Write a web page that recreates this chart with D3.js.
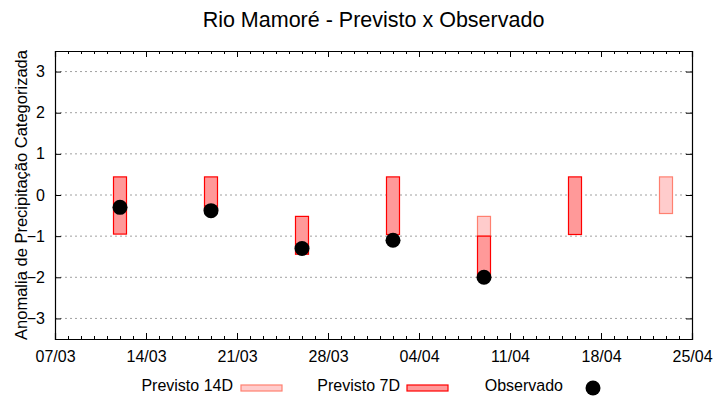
<!DOCTYPE html>
<html lang="pt">
<head>
<meta charset="UTF-8" />
<title>Rio Mamoré - Previsto x Observado</title>
<script src="https://d3js.org/d3.v7.min.js"></script>
<style>
    body { margin: 0; background: #fff; font-family: "Liberation Sans", Arial, sans-serif; }
    .grid line { stroke: #a0a0a0; stroke-dasharray: 2,3; }
    .axis text { font-size: 16px; fill: #000; font-family: "Liberation Sans", Arial, sans-serif; }
    .axis path, .axis line { stroke: #000; }
</style>
</head>
<body>
<svg width="720" height="400"></svg>
<script>
// data
const xTickDates = ["2025-03-07", "2025-03-14", "2025-03-21", "2025-03-28", "2025-04-04", "2025-04-11", "2025-04-18", "2025-04-25"];
const yTickValues = [-3, -2, -1, 0, 1, 2, 3];

const prev7Dates = ["2025-03-12", "2025-03-19", "2025-03-26", "2025-04-02", "2025-04-09", "2025-04-16"];
const prev7Low = [-0.95, -0.38, -1.44, -0.96, -2.0, -0.96];
const prev7High = [0.44, 0.44, -0.52, 0.44, -1.0, 0.44];

const prev14Dates = ["2025-04-09", "2025-04-23"];
const prev14Low = [-1.0, -0.45];
const prev14High = [-0.52, 0.44];

const obsDates = ["2025-03-12", "2025-03-19", "2025-03-26", "2025-04-02", "2025-04-09"];
const obsValues = [-0.3, -0.38, -1.3, -1.1, -2.0];

const parse = d3.utcParse("%Y-%m-%d");
const fmt = d3.utcFormat("%d/%m");

const svg = d3.select("svg");
const margin = { left: 55, right: 28, top: 51, bottom: 61 };
const width = 720, height = 400;

const x = d3.scaleUtc()
    .domain([parse("2025-03-07"), parse("2025-04-25")])
    .range([margin.left, width - margin.right]);
const y = d3.scaleLinear()
    .domain([-3.5, 3.5])
    .range([height - margin.bottom, margin.top]);

const barW = x(parse("2025-03-08")) - x(parse("2025-03-07"));

// grid
svg.append("g")
    .attr("class", "grid")
    .selectAll("line")
    .data(yTickValues)
    .enter()
    .append("line")
    .attr("x1", margin.left)
    .attr("x2", width - margin.right)
    .attr("y1", (d) => y(d))
    .attr("y2", (d) => y(d));

const xTicks = xTickDates.map(parse);
const minorTicks = d3.utcDay.range(x.domain()[0], x.domain()[1]);

// minor ticks bottom/top
svg.append("g")
    .attr("class", "axis")
    .attr("transform", `translate(0,${height - margin.bottom})`)
    .call(d3.axisBottom(x).tickValues(minorTicks).tickSize(-3).tickFormat(""))
    .call((g) => g.select(".domain").remove());
svg.append("g")
    .attr("class", "axis")
    .attr("transform", `translate(0,${margin.top})`)
    .call(d3.axisTop(x).tickValues(minorTicks).tickSize(-3).tickFormat(""))
    .call((g) => g.select(".domain").remove());

// major x axes
svg.append("g")
    .attr("class", "axis")
    .attr("transform", `translate(0,${height - margin.bottom})`)
    .call(d3.axisBottom(x).tickValues(xTicks).tickSize(-6).tickPadding(12).tickFormat(fmt));
svg.append("g")
    .attr("class", "axis")
    .attr("transform", `translate(0,${margin.top})`)
    .call(d3.axisTop(x).tickValues(xTicks).tickSize(-6).tickFormat(""));

// y axes
svg.append("g")
    .attr("class", "axis")
    .attr("transform", `translate(${margin.left},0)`)
    .call(d3.axisLeft(y).tickValues(yTickValues).tickSize(-6).tickPadding(10).tickFormat(d3.format("d")));
svg.append("g")
    .attr("class", "axis")
    .attr("transform", `translate(${width - margin.right},0)`)
    .call(d3.axisRight(y).tickValues(yTickValues).tickSize(-6).tickFormat(""));

svg.selectAll(".axis .domain").attr("stroke-width", 1.2);

// 14D bars
svg.append("g")
    .selectAll("rect")
    .data(prev14Dates)
    .enter()
    .append("rect")
    .attr("x", (d) => x(parse(d)) - barW / 2)
    .attr("width", barW)
    .attr("y", (d, i) => y(prev14High[i]))
    .attr("height", (d, i) => y(prev14Low[i]) - y(prev14High[i]))
    .attr("fill", "#ffcccc")
    .attr("stroke", "#ff8070")
    .attr("stroke-width", 1.2);

// 7D bars
svg.append("g")
    .selectAll("rect")
    .data(prev7Dates)
    .enter()
    .append("rect")
    .attr("x", (d) => x(parse(d)) - barW / 2)
    .attr("width", barW)
    .attr("y", (d, i) => y(prev7High[i]))
    .attr("height", (d, i) => y(prev7Low[i]) - y(prev7High[i]))
    .attr("fill", "#ff9999")
    .attr("stroke", "#ff0000")
    .attr("stroke-width", 1.2);

// observed
svg.append("g")
    .selectAll("circle")
    .data(obsDates)
    .enter()
    .append("circle")
    .attr("cx", (d) => x(parse(d)))
    .attr("cy", (d, i) => y(obsValues[i]))
    .attr("r", 7.5)
    .attr("fill", "#000");

// title
svg.append("text")
    .attr("x", (margin.left + width - margin.right) / 2)
    .attr("y", 27)
    .attr("text-anchor", "middle")
    .attr("font-size", "21.5px")
    .text("Rio Mamoré - Previsto x Observado");

// y label
svg.append("text")
    .attr("transform", `translate(27,${(margin.top + height - margin.bottom) / 2}) rotate(-90)`)
    .attr("text-anchor", "middle")
    .attr("font-size", "16.5px")
    .text("Anomalia de Precipitação Categorizada");

// legend
const legend = svg.append("g").attr("font-size", "16px");
legend.append("text").attr("x", 233).attr("y", 391).attr("text-anchor", "end").text("Previsto 14D");
legend.append("rect").attr("x", 241).attr("y", 385).attr("width", 41).attr("height", 6)
    .attr("fill", "#ffcccc").attr("stroke", "#ff8070").attr("stroke-width", 1.2);
legend.append("text").attr("x", 400).attr("y", 391).attr("text-anchor", "end").text("Previsto 7D");
legend.append("rect").attr("x", 407).attr("y", 385).attr("width", 41).attr("height", 6)
    .attr("fill", "#ff9999").attr("stroke", "#ff0000").attr("stroke-width", 1.2);
legend.append("text").attr("x", 563).attr("y", 391).attr("text-anchor", "end").text("Observado");
legend.append("circle").attr("cx", 593).attr("cy", 388).attr("r", 7.5).attr("fill", "#000");
</script>
</body>
</html>
